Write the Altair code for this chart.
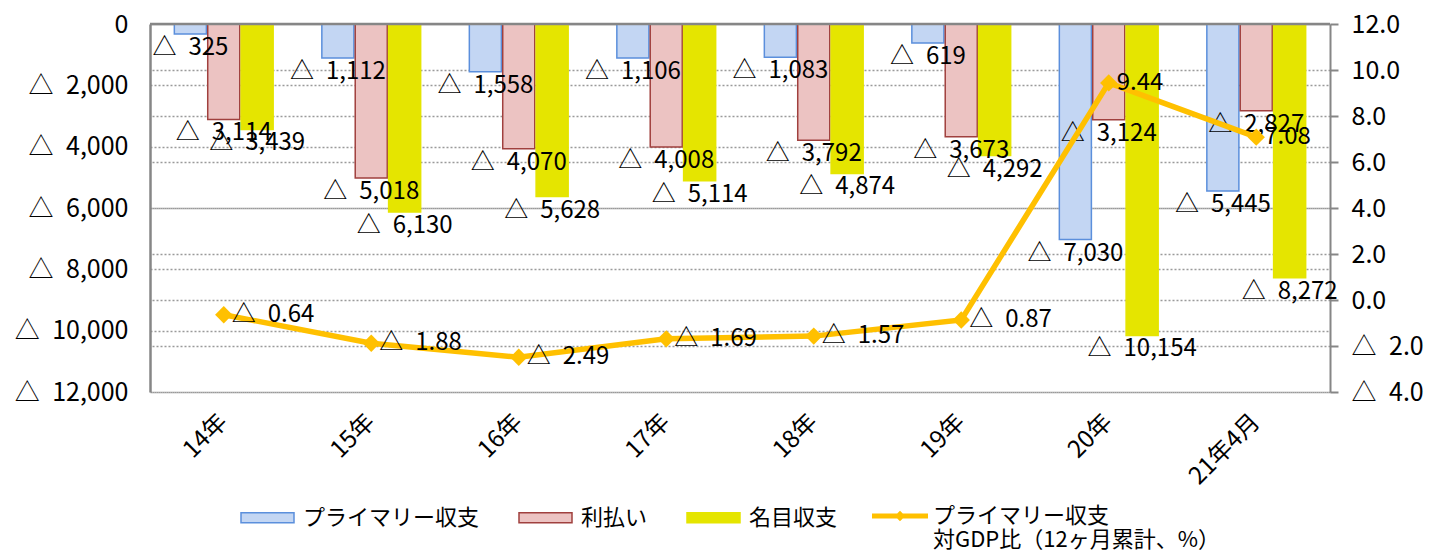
import altair as alt
import pandas as pd

# ---- data ----
categories = ["14年", "15年", "16年", "17年", "18年", "19年", "20年", "21年4月"]
series_names = ["プライマリー収支", "利払い", "名目収支"]
primary = [-325, -1112, -1558, -1106, -1083, -619, -7030, -5445]
interest = [-3114, -5018, -4070, -4008, -3792, -3673, -3124, -2827]
nominal = [-3439, -6130, -5628, -5114, -4874, -4292, -10154, -8272]
ratio = [-0.64, -1.88, -2.49, -1.69, -1.57, -0.87, 9.44, 7.08]
line_name = "プライマリー収支"
line_sub = "対GDP比（12ヶ月累計、%）"
left_ticks = [0, -2000, -4000, -6000, -8000, -10000, -12000]
right_ticks = [12, 10, 8, 6, 4, 2, 0, -2, -4]

rows = []
for s, vals in zip(series_names, [primary, interest, nominal]):
    for c, v in zip(categories, vals):
        rows.append({"cat": c, "series": s, "value": v})
bars_df = pd.DataFrame(rows)
line_df = pd.DataFrame({"cat": categories, "ratio": ratio, "name": [line_name] * len(categories)})
zero_df = pd.DataFrame({"zero": [0]})

FONT = "Noto Sans CJK JP"
SP = "\u2002"
fill_colors = ["#c3d6f3", "#ecc3c2", "#e5e500"]
stroke_colors = ["#5b8fdc", "#a0403e", "#e5e500"]
GRID = "#9a9a9a"
AXIS = "#868686"

x_enc = alt.X(
    "cat:N", sort=categories,
    scale=alt.Scale(paddingInner=0.33, paddingOuter=0.165),
    axis=alt.Axis(orient="bottom", title=None, domain=False, ticks=False,
                  labelAngle=-45, labelAlign="right", labelBaseline="middle",
                  labelPadding=26, labelFontSize=24, labelFont=FONT,
                  labelColor="black", grid=False),
)
xoff = alt.XOffset("series:N", sort=series_names, scale=alt.Scale(paddingInner=0.04))

left_scale = alt.Scale(domain=[-12000, 0], nice=False)
right_scale = alt.Scale(domain=[-4, 12], nice=False)

y_left = alt.Y(
    "value:Q", scale=left_scale,
    axis=alt.Axis(orient="left", values=left_ticks, title=None, ticks=False,
                  labelExpr=f"datum.value < 0 ? '△{SP}' + format(-datum.value, ',') : format(datum.value, ',')",
                  domainColor=AXIS, domainWidth=2.5,
                  grid=True, gridDash=[2, 2], gridColor=GRID, gridWidth=1.5,
                  labelPadding=22, labelFontSize=25, labelFont=FONT, labelColor="black"),
)

bar_legend = alt.Legend(
    orient="none", legendX=90, legendY=466, direction="horizontal", title=None,
    symbolType="M-1,-0.19H1V0.19H-1Z", symbolSize=2809, symbolStrokeWidth=1.5,
    labelFontSize=22, labelFont=FONT, labelColor="black", labelLimit=400,
    columnPadding=36, labelOffset=8, padding=0, symbolOpacity=1,
)

bars = alt.Chart(bars_df).mark_bar(strokeWidth=1.5, opacity=1).encode(
    x=x_enc, xOffset=xoff, y=y_left,
    fill=alt.Fill("series:N", scale=alt.Scale(domain=series_names, range=fill_colors), legend=bar_legend),
    stroke=alt.Stroke("series:N", scale=alt.Scale(domain=series_names, range=stroke_colors), legend=bar_legend),
)

zero_rule = alt.Chart(zero_df).mark_rule(color=AXIS, strokeWidth=2.5).encode(
    y=alt.Y("zero:Q", scale=left_scale)
)

bar_labels = alt.Chart(bars_df).transform_calculate(
    lbl=f"datum.value < 0 ? '△{SP}' + format(-datum.value, ',') : format(datum.value, ',')"
).mark_text(fontSize=24, font=FONT, color="black", align="center", baseline="middle", dy=14).encode(
    x=x_enc, xOffset=xoff, y=alt.Y("value:Q", scale=left_scale), text="lbl:N"
)

left = alt.layer(bars, zero_rule, bar_labels)

y_right = alt.Y(
    "ratio:Q", scale=right_scale,
    axis=alt.Axis(orient="right", values=right_ticks, title=None,
                  labelExpr=f"datum.value < 0 ? '△{SP}' + format(-datum.value, '.1f') : format(datum.value, '.1f')",
                  ticks=True, tickSize=8, tickColor=AXIS, tickWidth=2,
                  domainColor=AXIS, domainWidth=2,
                  grid=True, gridDash=[2, 2], gridColor=GRID, gridWidth=1.5,
                  labelPadding=13, labelFontSize=25, labelFont=FONT, labelColor="black"),
)

line_legend = alt.Legend(
    orient="none", legendX=722, legendY=464, title=None,
    symbolType="M-1,-0.09H1V0.09H-1Z M0,-0.19L0.19,0L0,0.19L-0.19,0Z",
    symbolSize=3136, symbolFillColor="#FFC000", symbolStrokeColor="#FFC000",
    symbolStrokeWidth=0,
    labelExpr=f"[datum.label, '{line_sub}']",
    labelFontSize=22, labelFont=FONT, labelColor="black", labelLimit=400,
    labelOffset=5, padding=0,
)

line = alt.Chart(line_df).mark_line(color="#FFC000", strokeWidth=5.5).encode(x=x_enc, y=y_right)
points = alt.Chart(line_df).mark_point(shape="diamond", filled=True, size=300, color="#FFC000").encode(
    x=x_enc, y=alt.Y("ratio:Q", scale=right_scale),
    opacity=alt.Opacity("name:N", scale=alt.Scale(range=[1]), legend=line_legend),
)
line_labels = alt.Chart(line_df).transform_calculate(
    lbl=f"datum.ratio < 0 ? '△{SP}' + format(-datum.ratio, '.2f') : format(datum.ratio, '.2f')"
).mark_text(fontSize=24, font=FONT, color="black", align="left", baseline="middle", dx=8).encode(
    x=x_enc, y=alt.Y("ratio:Q", scale=right_scale), text="lbl:N"
)

right = alt.layer(line, points, line_labels)

chart = alt.layer(left, right).resolve_scale(y="independent").properties(
    width=1180, height=368,
    autosize=alt.AutoSizeParams(type="none"),
    padding={"left": 142, "top": 16, "right": 95, "bottom": 162},
    background="white",
).configure_view(strokeWidth=0)

chart.save("out.html", embed_options={"renderer": "svg", "actions": False})
